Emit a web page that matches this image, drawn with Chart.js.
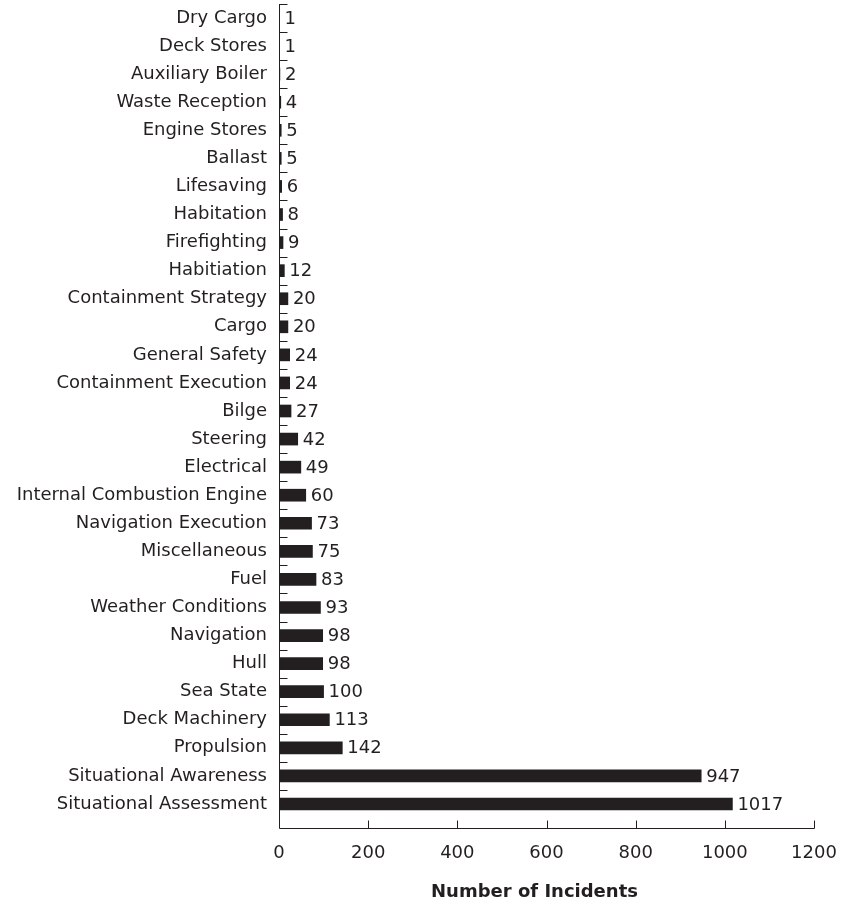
<!DOCTYPE html>
<html>
<head>
<meta charset="utf-8">
<script src="https://cdn.jsdelivr.net/npm/chart.js@4"></script>
<style>
  html, body { margin: 0; padding: 0; background: #fff; }
  #wrap { width: 845px; height: 908px; }
</style>
</head>
<body>
<div id="wrap"><canvas id="incidentsChart" width="845" height="908"></canvas></div>
<script>
// Incident categories, top to bottom
const categories = [
    'Dry Cargo', 'Deck Stores', 'Auxiliary Boiler', 'Waste Reception', 'Engine Stores',
    'Ballast', 'Lifesaving', 'Habitation', 'Firefighting', 'Habitiation',
    'Containment Strategy', 'Cargo', 'General Safety', 'Containment Execution', 'Bilge',
    'Steering', 'Electrical', 'Internal Combustion Engine', 'Navigation Execution', 'Miscellaneous',
    'Fuel', 'Weather Conditions', 'Navigation', 'Hull', 'Sea State',
    'Deck Machinery', 'Propulsion', 'Situational Awareness', 'Situational Assessment'
];
const incidents = [
    1, 1, 2, 4, 5,
    5, 6, 8, 9, 12,
    20, 20, 24, 24, 27,
    42, 49, 60, 73, 75,
    83, 93, 98, 98, 100,
    113, 142, 947, 1017
];
const xTicks = [0, 200, 400, 600, 800, 1000, 1200];
const xTitle = 'Number of Incidents';

const ink = '#231f20';
const fontFamily = '"DejaVu Sans", sans-serif';

// axis lines, inward tick marks, value labels and the axis title
const axesPlugin = {
    id: 'axesPlugin',
    afterDatasetsDraw(chart) {
        const ctx = chart.ctx;
        const area = chart.chartArea;
        const xs = chart.scales.x;
        const ys = chart.scales.y;
        const baseY = Math.round(area.bottom + 10) + 0.5;
        const leftX = Math.round(xs.getPixelForValue(0)) + 0.5;
        const rightX = Math.round(xs.getPixelForValue(xTicks[xTicks.length - 1])) + 0.5;
        const step = ys.getPixelForValue(1) - ys.getPixelForValue(0);

        ctx.save();
        ctx.strokeStyle = ink;
        ctx.lineWidth = 1;
        ctx.beginPath();
        ctx.moveTo(leftX, area.top);
        ctx.lineTo(leftX, baseY);
        ctx.lineTo(rightX, baseY);
        // x tick marks point up into the plot
        xTicks.forEach(v => {
            if (v === 0) return;
            const px = Math.round(xs.getPixelForValue(v)) + 0.5;
            ctx.moveTo(px, baseY);
            ctx.lineTo(px, baseY - 8);
        });
        // y tick marks sit between categories
        categories.forEach((c, i) => {
            const py = Math.round(ys.getPixelForValue(i) - step / 2) + 0.5;
            ctx.moveTo(leftX, py);
            ctx.lineTo(leftX + 8, py);
        });
        ctx.stroke();

        // value at the end of each bar
        ctx.fillStyle = ink;
        ctx.font = '18px ' + fontFamily;
        ctx.textAlign = 'left';
        ctx.textBaseline = 'middle';
        incidents.forEach((v, i) => {
            ctx.fillText(String(v), xs.getPixelForValue(v) + 5, ys.getPixelForValue(i) + 1);
        });

        ctx.font = 'bold 18px ' + fontFamily;
        ctx.textAlign = 'center';
        ctx.fillText(xTitle, (xs.left + xs.right) / 2 - 12, chart.height - 16);
        ctx.restore();
    }
};

const incidentsChart = new Chart(document.getElementById('incidentsChart'), {
    type: 'bar',
    data: {
        labels: categories,
        datasets: [{
            data: incidents,
            backgroundColor: ink,
            borderWidth: 0,
            barThickness: 12
        }]
    },
    options: {
        indexAxis: 'y',
        responsive: false,
        animation: false,
        devicePixelRatio: 1,
        layout: { padding: { top: 4, right: 31, bottom: 0, left: 0 } },
        plugins: {
            legend: { display: false },
            tooltip: { enabled: false }
        },
        scales: {
            x: {
                min: 0,
                max: 1200,
                afterFit: s => {
                    s.height = 90;
                    s.paddingLeft = 0;
                    s.paddingRight = 0;
                },
                afterBuildTicks: s => { s.ticks = xTicks.map(v => ({ value: v })); },
                grid: { display: false, drawTicks: false },
                border: { display: false },
                ticks: {
                    color: ink,
                    padding: 25,
                    maxRotation: 0,
                    callback: v => String(v),
                    font: { family: fontFamily, size: 18 }
                }
            },
            y: {
                afterFit: s => {
                    s.width = 279;
                    s.paddingTop = 0;
                    s.paddingBottom = 0;
                },
                grid: { display: false, drawTicks: false },
                border: { display: false },
                ticks: {
                    color: ink,
                    padding: 12,
                    autoSkip: false,
                    font: { family: fontFamily, size: 18 }
                }
            }
        }
    },
    plugins: [axesPlugin]
});
</script>
</body>
</html>
